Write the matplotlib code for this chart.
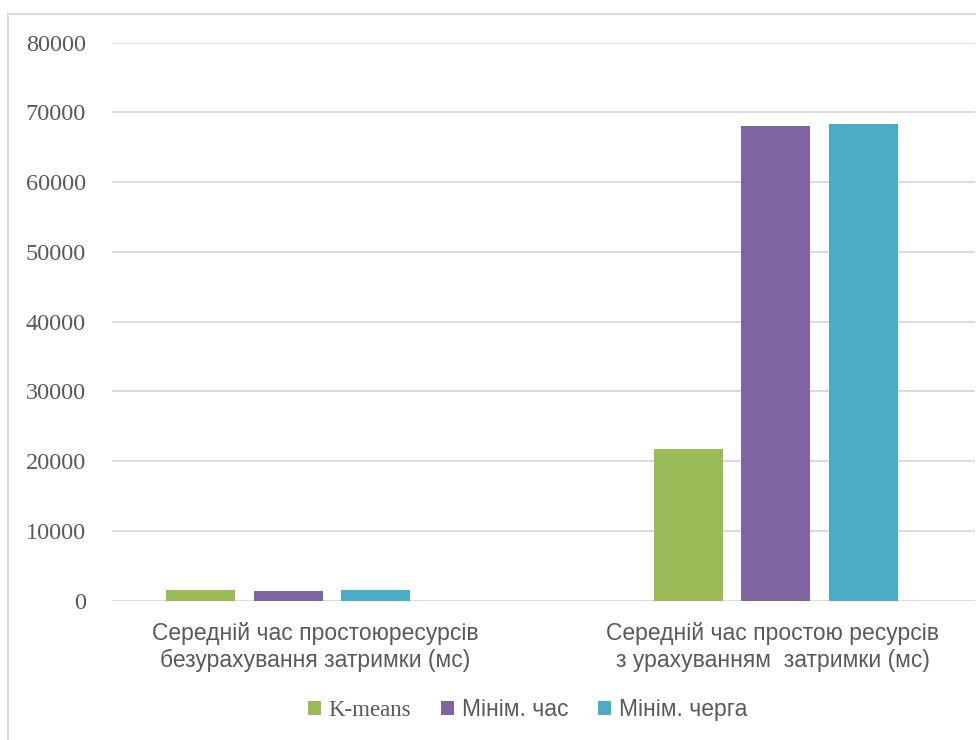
import numpy as np
import matplotlib.pyplot as plt
from matplotlib.patches import Rectangle

categories = ["Середній час простоюресурсів\nбезурахування затримки (мс)",
              "Середній час простою ресурсів\nз урахуванням  затримки (мс)"]
series_names = ["K-means", "Мінім. час", "Мінім. черга"]
kmeans = [1500, 21700]
min_time = [1400, 68000]
min_queue = [1500, 68300]
yticks = [0, 10000, 20000, 30000, 40000, 50000, 60000, 70000, 80000]

colors = ["#9BBB59", "#8064A2", "#4BACC6"]
txt = "#595959"

fig = plt.figure(figsize=(9.76, 7.4), dpi=100)
ax = fig.add_axes([0.1148, 0.1882, 0.884, 0.7541])

x = np.arange(len(categories))
w = 0.1414
off = 0.180
for i, (vals, name) in enumerate(zip([kmeans, min_time, min_queue], series_names)):
    ax.bar(x + (i - 1) * off, vals, width=w, color=colors[i], label=name, zorder=3)

ax.set_ylim(0, 80000)
ax.set_xlim(-0.361, 1.408)
ax.set_yticks(yticks)
ax.set_yticklabels([str(v) for v in yticks], fontfamily="Liberation Serif", fontsize=17.5, color=txt)
ax.yaxis.grid(True, color="#D9D9D9", linewidth=1.3, zorder=0)
ax.tick_params(axis="y", length=0, pad=19)

ax.set_xticks([0.055, 0.994])
ax.set_xticklabels(categories, fontfamily="Liberation Sans", fontsize=16.5, color=txt, linespacing=1.25)
ax.tick_params(axis="x", length=0, pad=15)
for s in ax.spines.values():
    s.set_visible(False)

leg = fig.legend(loc="center", bbox_to_anchor=(0.5405, 0.041), ncol=3, frameon=False,
                 handlelength=0.55, handleheight=0.55, handletextpad=0.35, columnspacing=1.3,
                 prop={"family": "Liberation Sans", "size": 16.5})
for t in leg.get_texts():
    t.set_color(txt)
leg.get_texts()[0].set_fontfamily("Liberation Serif")

# chart border
fig.patches.append(Rectangle((8 / 976, -0.01), 1.0, 1 - 14 / 740 + 0.01, transform=fig.transFigure,
                             fill=False, edgecolor="#D9D9D9", linewidth=1.5))

fig.savefig("out.png", dpi=100)
